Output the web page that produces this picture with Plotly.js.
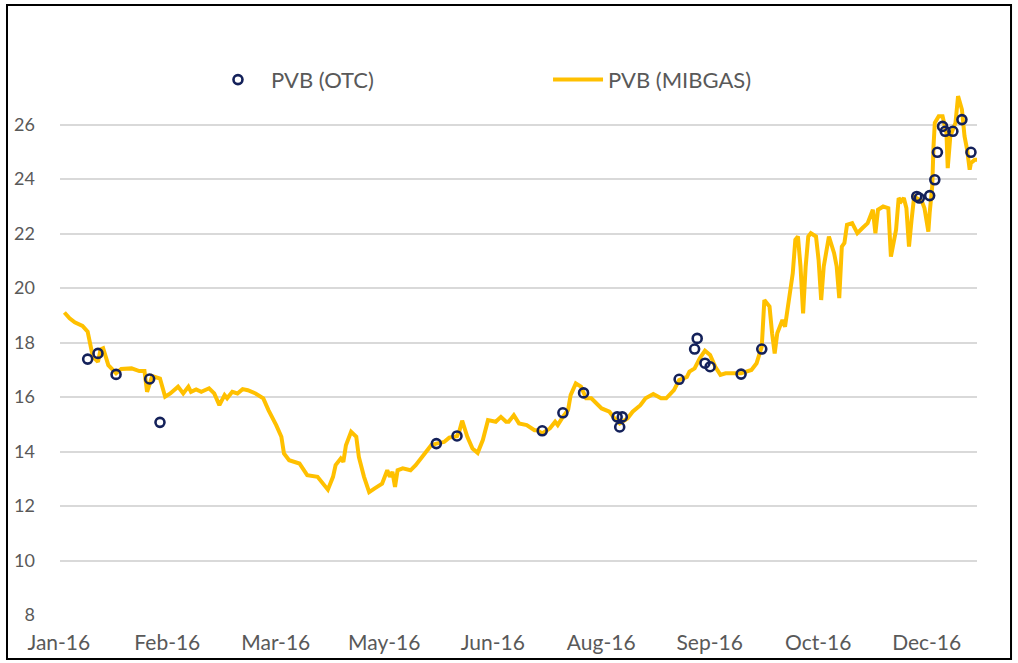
<!DOCTYPE html>
<html>
<head>
<meta charset="utf-8">
<script src="https://cdn.plot.ly/plotly-3.0.1.min.js"></script>
<style>
  html, body { margin: 0; padding: 0; background: #ffffff; }
  #chart { width: 1018px; height: 663px; }
</style>
</head>
<body>
<div id="chart"></div>
<script>
// ---- Data ----
const mibDates = [
  '2016-01-05','2016-01-07','2016-01-09','2016-01-12','2016-01-14','2016-01-15','2016-01-16','2016-01-18','2016-01-19','2016-01-20',
  '2016-01-22','2016-01-25','2016-01-27','2016-01-31','2016-02-03','2016-02-05','2016-02-06','2016-02-08','2016-02-11','2016-02-13',
  '2016-02-15','2016-02-18','2016-02-20','2016-02-22','2016-02-23','2016-02-25','2016-02-27','2016-03-01','2016-03-03','2016-03-05',
  '2016-03-07','2016-03-08','2016-03-10','2016-03-12','2016-03-14','2016-03-16','2016-03-19','2016-03-22','2016-03-24','2016-03-27',
  '2016-03-29','2016-03-30','2016-04-01','2016-04-05','2016-04-08','2016-04-12','2016-04-14','2016-04-16','2016-04-18','2016-04-19',
  '2016-04-21','2016-04-22','2016-04-23','2016-04-25','2016-04-27','2016-04-28','2016-04-30','2016-05-02','2016-05-04','2016-05-06',
  '2016-05-07','2016-05-09','2016-05-10','2016-05-11','2016-05-12','2016-05-13','2016-05-15','2016-05-18','2016-05-20','2016-05-23',
  '2016-05-26','2016-05-28','2016-05-31','2016-06-02','2016-06-05','2016-06-06','2016-06-07','2016-06-09','2016-06-11','2016-06-13',
  '2016-06-15','2016-06-17','2016-06-20','2016-06-22','2016-06-24','2016-06-25','2016-06-27','2016-06-29','2016-07-02','2016-07-05',
  '2016-07-06','2016-07-08','2016-07-11','2016-07-13','2016-07-14','2016-07-16','2016-07-18','2016-07-19','2016-07-21','2016-07-23',
  '2016-07-25','2016-07-27','2016-07-29','2016-07-31','2016-08-03','2016-08-05','2016-08-07','2016-08-10','2016-08-12','2016-08-15',
  '2016-08-17','2016-08-20','2016-08-23','2016-08-25','2016-08-28','2016-08-30','2016-09-02','2016-09-03','2016-09-05','2016-09-07',
  '2016-09-09','2016-09-11','2016-09-13','2016-09-15','2016-09-17','2016-09-20','2016-09-23','2016-09-25','2016-09-27','2016-09-29',
  '2016-10-01','2016-10-02','2016-10-04','2016-10-05','2016-10-06','2016-10-07','2016-10-09','2016-10-10','2016-10-11','2016-10-13',
  '2016-10-14','2016-10-15','2016-10-16','2016-10-17','2016-10-18','2016-10-19','2016-10-20','2016-10-22','2016-10-23','2016-10-24',
  '2016-10-25','2016-10-27','2016-10-29','2016-10-30','2016-10-31','2016-11-01','2016-11-02','2016-11-03','2016-11-05','2016-11-07',
  '2016-11-09','2016-11-11','2016-11-13','2016-11-14','2016-11-15','2016-11-17','2016-11-19','2016-11-20','2016-11-22','2016-11-23',
  '2016-11-24','2016-11-25','2016-11-26','2016-11-27','2016-11-28','2016-11-29','2016-11-30','2016-12-02','2016-12-03','2016-12-04 12:00',
  '2016-12-05','2016-12-06','2016-12-06 12:00','2016-12-07','2016-12-08 12:00','2016-12-10','2016-12-11 12:00','2016-12-12','2016-12-13','2016-12-14',
  '2016-12-15','2016-12-16','2016-12-17 12:00','2016-12-18 12:00','2016-12-19 12:00','2016-12-20 12:00','2016-12-21','2016-12-22 12:00','2016-12-24'
];
const mibValues = [
  19.10,18.89,18.74,18.61,18.40,17.91,17.48,17.29,17.75,17.79,
  17.17,16.87,17.03,17.05,16.95,16.95,16.19,16.77,16.68,16.01,
  16.13,16.38,16.13,16.38,16.19,16.28,16.19,16.32,16.13,15.70,
  16.07,15.95,16.19,16.13,16.29,16.25,16.13,15.95,15.52,14.97,
  14.54,13.93,13.68,13.56,13.13,13.07,12.82,12.60,13.07,13.50,
  13.74,13.62,14.23,14.72,14.54,13.80,13.07,12.51,12.64,12.76,
  12.82,13.31,13.07,13.25,12.70,13.31,13.38,13.31,13.50,13.86,
  14.23,14.29,14.35,14.51,14.56,14.78,15.13,14.54,14.11,13.95,
  14.42,15.15,15.09,15.27,15.09,15.09,15.33,15.03,14.97,14.78,
  14.78,14.66,14.85,15.09,14.97,15.27,15.52,16.07,16.50,16.38,
  15.95,15.95,15.76,15.58,15.46,15.21,15.03,15.21,15.46,15.70,
  15.95,16.11,15.95,15.95,16.25,16.62,16.74,16.93,17.05,17.42,
  17.70,17.54,17.11,16.81,16.87,16.87,16.87,16.93,16.99,17.24,
  17.85,19.56,19.32,18.34,17.60,18.34,18.83,18.58,19.32,20.54,
  21.77,21.89,20.79,19.07,20.79,21.89,22.01,21.89,21.03,19.56,
  20.79,21.89,21.28,20.79,19.63,21.52,21.65,22.32,22.38,22.01,
  22.20,22.38,22.87,22.01,22.87,22.99,22.93,21.15,22.14,23.30,
  23.18,23.30,22.93,21.52,22.50,23.36,23.30,23.18,22.93,22.07,
  22.75,23.73,25.20,26.06,26.30,26.30,25.69,24.40,25.57,25.81,
  26.06,27.04,26.55,25.57,25.08,24.34,24.59,24.71,24.71
];
const otcDates = [
  '2016-01-14','2016-01-18','2016-01-25','2016-02-07','2016-02-11','2016-05-28','2016-06-05','2016-07-08','2016-07-16','2016-07-24',
  '2016-08-06','2016-08-07','2016-08-08','2016-08-30','2016-09-05','2016-09-06','2016-09-09','2016-09-11','2016-09-23','2016-10-01',
  '2016-11-30','2016-12-01','2016-12-05','2016-12-07','2016-12-08','2016-12-10','2016-12-11','2016-12-14','2016-12-17 12:00','2016-12-21'
];
const otcValues = [
  17.39,17.60,16.83,16.66,15.07,14.29,14.57,14.76,15.42,16.15,
  15.27,14.90,15.27,16.65,17.76,18.15,17.24,17.11,16.84,17.76,
  23.36,23.30,23.39,23.97,24.98,25.93,25.75,25.75,26.18,24.98
];
const yTickVals = [8, 10, 12, 14, 16, 18, 20, 22, 24, 26];
const xTickVals = ['2016-01-04','2016-02-15','2016-03-28','2016-05-09','2016-06-20','2016-08-01','2016-09-12','2016-10-24','2016-12-05'];
const xTickText = ['Jan-16','Feb-16','Mar-16','May-16','Jun-16','Aug-16','Sep-16','Oct-16','Dec-16'];
const seriesNames = ['PVB (OTC)', 'PVB (MIBGAS)'];

// ---- Chart ----
const FONT = 'Lato, "Open Sans", sans-serif';
const traces = [
  {
    x: mibDates, y: mibValues, name: seriesNames[1], type: 'scatter', mode: 'lines',
    line: { color: '#FFC000', width: 4 }, legend: 'legend2'
  },
  {
    x: otcDates, y: otcValues, name: seriesNames[0], type: 'scatter', mode: 'markers',
    marker: { symbol: 'circle-open', size: 9, color: '#14215A', line: { width: 2.6, color: '#14215A' } },
    legend: 'legend'
  }
];

const layout = {
  width: 1018, height: 663,
  margin: { l: 60, r: 41, t: 70, b: 48, pad: 0 },
  paper_bgcolor: '#ffffff', plot_bgcolor: '#ffffff',
  font: { family: FONT, color: '#595959' },
  xaxis: {
    type: 'date',
    range: ['2016-01-03 07:00', '2016-12-23 08:00'],
    tickmode: 'array', tickvals: xTickVals, ticktext: xTickText,
    showgrid: false, zeroline: false, showline: false, ticks: '',
    tickfont: { family: FONT, size: 21, color: '#595959' },
    ticklabelstandoff: 13, ticklabelshift: -3
  },
  yaxis: {
    range: [8, 28],
    tickmode: 'array', tickvals: yTickVals,
    showgrid: true, gridcolor: '#D9D9D9', gridwidth: 2,
    zeroline: false, showline: false, ticks: '',
    tickfont: { family: FONT, size: 18, color: '#595959' },
    ticklabelstandoff: 24
  },
  showlegend: true,
  legend: {
    orientation: 'h', x: 0.1581, xanchor: 'left', y: 0.982, yanchor: 'middle',
    itemwidth: 56,
    bgcolor: 'rgba(0,0,0,0)', borderwidth: 0,
    font: { size: 22, color: '#595959', family: FONT }
  },
  legend2: {
    orientation: 'h', x: 0.5322, xanchor: 'left', y: 0.982, yanchor: 'middle',
    itemwidth: 50,
    bgcolor: 'rgba(0,0,0,0)', borderwidth: 0,
    font: { size: 22, color: '#595959', family: FONT }
  },
  shapes: [
    { type: 'rect', xref: 'paper', yref: 'paper', x0: -0.0578, x1: 1.0371, y0: -0.0807, y1: 1.1193,
      line: { color: '#000000', width: 2 }, fillcolor: 'rgba(0,0,0,0)', layer: 'above' }
  ]
};

Plotly.newPlot('chart', traces, layout, { displayModeBar: false, staticPlot: true });
</script>
</body>
</html>
